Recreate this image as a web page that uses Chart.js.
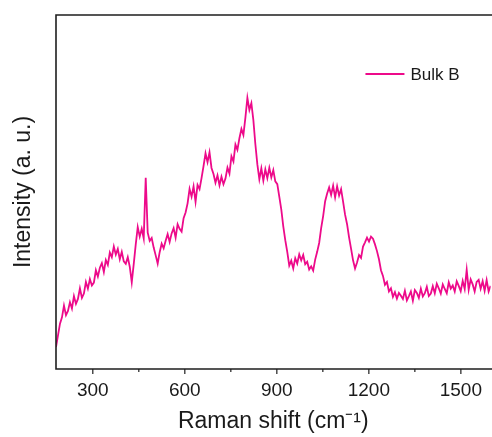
<!DOCTYPE html>
<html>
<head>
<meta charset="utf-8">
<script src="https://cdn.jsdelivr.net/npm/chart.js@4.4.1/dist/chart.umd.min.js"></script>
<style>
  html, body { margin: 0; padding: 0; background: #fff; }
  #wrap { width: 492px; height: 437px; position: relative; }
</style>
</head>
<body>
<div id="wrap"><canvas id="Raman"></canvas></div>
<script>
// sampling grid of the spectrum (cm-1)
const shiftStart = 180;
const shiftStep = 6.5;
const shiftMax = 1597;

// intensity (arbitrary units, 0..100 = bottom..top of frame)
const intensity = [
    6.2, 9.5, 12.8, 14.6, 17.9, 15.2, 16.4, 18.9, 17.1, 20.6,
    18.4, 19.8, 22.8, 20.1, 21.3, 24.6, 22.7, 25.4, 23.6, 24.4,
    27.9, 26.1, 28.6, 29.9, 27.4, 30.8, 29.4, 32.9, 31.6, 34.6,
    32.3, 33.9, 31.0, 33.1, 30.4, 29.7, 31.6, 28.9, 24.5, 29.7,
    35.2, 40.1, 37.4, 39.6, 36.9, 54.0, 38.5, 36.2, 37.0, 34.3,
    32.1, 29.8, 33.0, 35.4, 34.1, 36.2, 38.1, 35.9, 38.3, 39.8,
    37.1, 40.9, 39.6, 38.8, 42.6, 44.2, 46.8, 50.9, 48.7, 51.6,
    47.2, 52.0, 50.8, 53.9, 57.3, 60.9, 58.4, 61.2, 56.8, 55.1,
    52.6, 54.7, 51.9, 54.3, 52.2, 53.8, 56.9, 55.2, 60.1, 58.6,
    63.4, 61.9, 65.2, 67.8, 66.1, 71.0, 76.6, 73.2, 75.1, 70.3,
    63.5, 57.8, 53.6, 56.7, 53.2, 56.4, 53.9, 56.8, 54.1, 56.2,
    53.0, 52.2, 48.7, 45.1, 40.3, 36.4, 33.1, 29.2, 30.6, 28.4,
    31.3, 29.8, 32.4, 30.7, 32.2, 29.6, 30.3, 28.1, 29.0, 27.8,
    30.9, 33.1, 35.6, 39.8, 43.2, 47.4, 49.6, 51.3, 49.2, 51.8,
    48.5, 51.6, 49.0, 50.8, 47.3, 43.6, 40.9, 37.2, 34.0, 30.7,
    28.4, 30.1, 32.2, 31.4, 34.6, 35.8, 37.1, 36.0, 37.4, 36.8,
    35.2, 33.3, 31.0, 27.9, 26.3, 23.8, 24.6, 21.9, 22.8, 20.4,
    21.7, 19.9, 21.5, 20.7, 19.8, 22.1, 19.4, 20.6, 21.9, 19.3,
    22.3, 21.5, 20.1, 22.7, 20.5, 21.4, 23.2, 20.6, 21.3, 23.4,
    21.4, 24.1, 22.8, 21.3, 23.9, 22.6, 21.4, 24.5, 22.7, 23.6,
    21.9, 24.8, 23.5, 22.0, 24.9, 22.6, 28.0, 22.4, 25.3, 23.9,
    21.9, 24.6, 25.2, 22.7, 24.8, 22.1, 25.1, 21.9, 23.5
];

const majorTicks = [300, 600, 900, 1200, 1500];
const minorTicks = [450, 750, 1050, 1350];
const seriesName = 'Bulk B';
const lineColor = '#ED0A8A';
const fontFamily = "'Liberation Sans', Arial, sans-serif";

const points = intensity.map((v, i) => ({x: shiftStart + i * shiftStep, y: v}));

// frame, tick marks and the in-plot legend
const framePlugin = {
    id: 'frame',
    afterDraw(chart) {
        const {ctx, chartArea: a, scales} = chart;
        ctx.save();
        ctx.strokeStyle = '#1e1e1e';
        ctx.lineWidth = 1.6;
        ctx.beginPath();
        ctx.moveTo(a.right + 2, a.top);
        ctx.lineTo(a.left, a.top);
        ctx.lineTo(a.left, a.bottom);
        ctx.lineTo(a.right + 2, a.bottom);
        ctx.stroke();

        ctx.lineWidth = 1.2;
        ctx.beginPath();
        majorTicks.forEach(t => {
            const px = scales.x.getPixelForValue(t);
            ctx.moveTo(px, a.bottom);
            ctx.lineTo(px, a.bottom + 5);
        });
        minorTicks.forEach(t => {
            const px = scales.x.getPixelForValue(t);
            ctx.moveTo(px, a.bottom);
            ctx.lineTo(px, a.bottom + 3);
        });
        ctx.stroke();

        // legend
        const lx = a.left + (a.right - a.left) * 0.712;
        const ly = a.top + 59;
        ctx.strokeStyle = lineColor;
        ctx.lineWidth = 1.8;
        ctx.beginPath();
        ctx.moveTo(lx, ly);
        ctx.lineTo(lx + 39, ly);
        ctx.stroke();
        ctx.fillStyle = '#1a1a1a';
        ctx.font = '17px ' + fontFamily;
        ctx.textBaseline = 'middle';
        ctx.fillText(seriesName, lx + 45, ly + 1);
        ctx.restore();
    }
};

new Chart(document.getElementById('Raman'), {
    type: 'line',
    data: {
        datasets: [{
            label: seriesName,
            data: points,
            borderColor: lineColor,
            borderWidth: 1.8,
            pointRadius: 0,
            tension: 0,
            fill: false
        }]
    },
    options: {
        responsive: true,
        maintainAspectRatio: false,
        animation: false,
        layout: {padding: {left: 6, top: 15, right: 0, bottom: 0}},
        plugins: {
            legend: {display: false},
            tooltip: {enabled: false}
        },
        scales: {
            x: {
                type: 'linear',
                min: shiftStart,
                max: shiftMax,
                grid: {display: false, drawTicks: false},
                border: {display: false},
                afterBuildTicks: (scale) => {
                    scale.ticks = majorTicks.map(v => ({value: v}));
                },
                afterFit: (scale) => { scale.height = 68; },
                ticks: {
                    color: '#1a1a1a',
                    padding: 10,
                    maxRotation: 0,
                    font: {family: fontFamily, size: 19},
                    callback: (v) => String(v)
                },
                title: {
                    display: true,
                    text: 'Raman shift (cm\u207B\u00B9)',
                    color: '#1a1a1a',
                    padding: {top: 0, bottom: 2},
                    font: {family: fontFamily, size: 23}
                }
            },
            y: {
                min: 0,
                max: 100,
                grid: {display: false, drawTicks: false},
                border: {display: false},
                ticks: {display: false},
                afterFit: (scale) => { scale.width = 50; },
                title: {
                    display: true,
                    text: 'Intensity (a. u.)',
                    color: '#1a1a1a',
                    padding: {top: 4, bottom: 0},
                    font: {family: fontFamily, size: 23}
                }
            }
        }
    },
    plugins: [framePlugin]
});
</script>
</body>
</html>
